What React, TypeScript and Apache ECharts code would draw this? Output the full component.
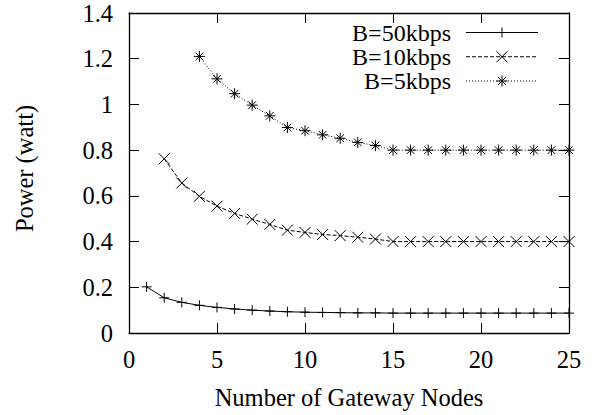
import React, { useEffect, useRef } from "react";
import * as echarts from "echarts";

const nodes50 = [1, 2, 3, 4, 5, 6, 7, 8, 9, 10, 11, 12, 13, 14, 15, 16, 17, 18, 19, 20, 21, 22, 23, 24, 25];
const power50 = [0.202, 0.154, 0.134, 0.121, 0.112, 0.105, 0.1, 0.096, 0.093, 0.091, 0.09, 0.089, 0.088, 0.088, 0.087, 0.087, 0.087, 0.087, 0.087, 0.087, 0.087, 0.087, 0.087, 0.087, 0.087];
const nodes10 = [2, 3, 4, 5, 6, 7, 8, 9, 10, 11, 12, 13, 14, 15, 16, 17, 18, 19, 20, 21, 22, 23, 24, 25];
const power10 = [0.762, 0.656, 0.598, 0.555, 0.523, 0.498, 0.475, 0.45, 0.44, 0.431, 0.426, 0.419, 0.411, 0.4, 0.4, 0.4, 0.4, 0.4, 0.4, 0.4, 0.4, 0.4, 0.4, 0.4];
const nodes5 = [4, 5, 6, 7, 8, 9, 10, 11, 12, 13, 14, 15, 16, 17, 18, 19, 20, 21, 22, 23, 24, 25];
const power5 = [1.21, 1.112, 1.047, 0.997, 0.95, 0.899, 0.885, 0.867, 0.852, 0.834, 0.82, 0.8, 0.8, 0.8, 0.8, 0.8, 0.8, 0.8, 0.8, 0.8, 0.8, 0.8];
const seriesNames = ["B=50kbps", "B=10kbps", "B=5kbps"];
const xTitle = "Number of Gateway Nodes";
const yTitle = "Power (watt)";

const FONT = "Liberation Serif";
const FS = 24.5;
const LEGEND_FS = 24;

const SYM_PLUS = "path://M0,5L10,5M5,0L5,10";
const SYM_CROSS = "path://M0,0L10,10M0,10L10,0";
const SYM_STAR = "path://M0,5L10,5M5,0L5,10M1.5,1.5L8.5,8.5M1.5,8.5L8.5,1.5";

let registered = false;
function registerShapes() {
  if (registered) return;
  registered = true;
  echarts.graphic.registerShape("mkplus", echarts.graphic.extendPath("M-5,0L5,0M0,-5L0,5", {}));
  echarts.graphic.registerShape("mkcross", echarts.graphic.extendPath("M-5.5,-5.5L5.5,5.5M-5.5,5.5L5.5,-5.5", {}));
  echarts.graphic.registerShape(
    "mkstar",
    echarts.graphic.extendPath("M-5.5,0L5.5,0M0,-5.5L0,5.5M-4,-4L4,4M-4,4L4,-4", {})
  );
}

export default function App() {
  const ref = useRef<HTMLDivElement>(null);
  useEffect(() => {
    if (!ref.current) return;
    registerShapes();
    const chart = echarts.init(ref.current, null, { renderer: "svg" });
    const axisCommon = {
      type: "value" as const,
      axisLine: { show: true, onZero: false, lineStyle: { color: "#000", width: 1.3 } },
      axisTick: { show: true, inside: true, length: 10, lineStyle: { color: "#000", width: 1 } },
      splitLine: { show: false },
    };
    const legendRows = [
      { y: 32.5, dash: null as number[] | null, mk: "mkplus" },
      { y: 56.75, dash: [4, 2], mk: "mkcross" },
      { y: 81, dash: [1, 2], mk: "mkstar" },
    ];
    const graphics: any[] = [];
    legendRows.forEach((r, i) => {
      graphics.push({
        type: "text",
        x: 451,
        y: r.y,
        style: {
          text: seriesNames[i],
          font: `${LEGEND_FS}px "${FONT}"`,
          fill: "#000",
          textAlign: "right",
          textVerticalAlign: "middle",
        },
      });
      graphics.push({
        type: "line",
        shape: { x1: 466, y1: r.y, x2: 538, y2: r.y },
        style: { stroke: "#000", lineWidth: 1, lineDash: r.dash || undefined },
      });
      graphics.push({
        type: r.mk,
        x: 502,
        y: r.y,
        style: { fill: "none", stroke: "#000", lineWidth: 1 },
      });
    });
    graphics.push({
      type: "text",
      x: 24,
      y: 168.5,
      rotation: Math.PI / 2,
      style: {
        text: yTitle,
        font: `${FS}px "${FONT}"`,
        fill: "#000",
        textAlign: "center",
        textVerticalAlign: "middle",
      },
    });

    const mkSeries = (name: string, xs: number[], ys: number[], sym: string, size: number, dash: any) => ({
      name,
      type: "line",
      data: xs.map((x, i) => [x, ys[i]]),
      symbol: sym,
      symbolSize: size,
      showSymbol: true,
      lineStyle: { color: "#000", width: 1, type: dash },
      itemStyle: { color: "#000", borderColor: "#000", borderWidth: 1 },
      emphasis: { disabled: true },
      z: 3,
    });

    chart.setOption({
      animation: false,
      backgroundColor: "#fff",
      textStyle: { fontFamily: FONT },
      grid: { left: 129, right: 28, top: 13, bottom: 79.5, containLabel: false },
      xAxis: [
        {
          ...axisCommon,
          position: "bottom",
          min: 0,
          max: 25,
          interval: 5,
          axisLabel: { color: "#000", fontSize: FS, fontFamily: FONT, margin: 14 },
          name: xTitle,
          nameLocation: "middle",
          nameGap: 52,
          nameTextStyle: { color: "#000", fontSize: FS, fontFamily: FONT },
        },
        {
          ...axisCommon,
          position: "top",
          min: 0,
          max: 25,
          interval: 5,
          axisLabel: { show: false },
        },
      ],
      yAxis: [
        {
          ...axisCommon,
          position: "left",
          min: 0,
          max: 1.4,
          interval: 0.2,
          axisLabel: { color: "#000", fontSize: FS, fontFamily: FONT, margin: 16 },
        },
        {
          ...axisCommon,
          position: "right",
          min: 0,
          max: 1.4,
          interval: 0.2,
          axisLabel: { show: false },
        },
      ],
      series: [
        mkSeries(seriesNames[0], nodes50, power50, SYM_PLUS, 10, "solid"),
        mkSeries(seriesNames[1], nodes10, power10, SYM_CROSS, 11, [4, 2]),
        mkSeries(seriesNames[2], nodes5, power5, SYM_STAR, 11, [1, 2]),
      ],
      graphic: graphics,
    });
    return () => chart.dispose();
  }, []);
  return (
    <div
      ref={ref}
      style={{ position: "fixed", left: 0, top: 0, width: 597, height: 415, overflow: "hidden" }}
    />
  );
}
